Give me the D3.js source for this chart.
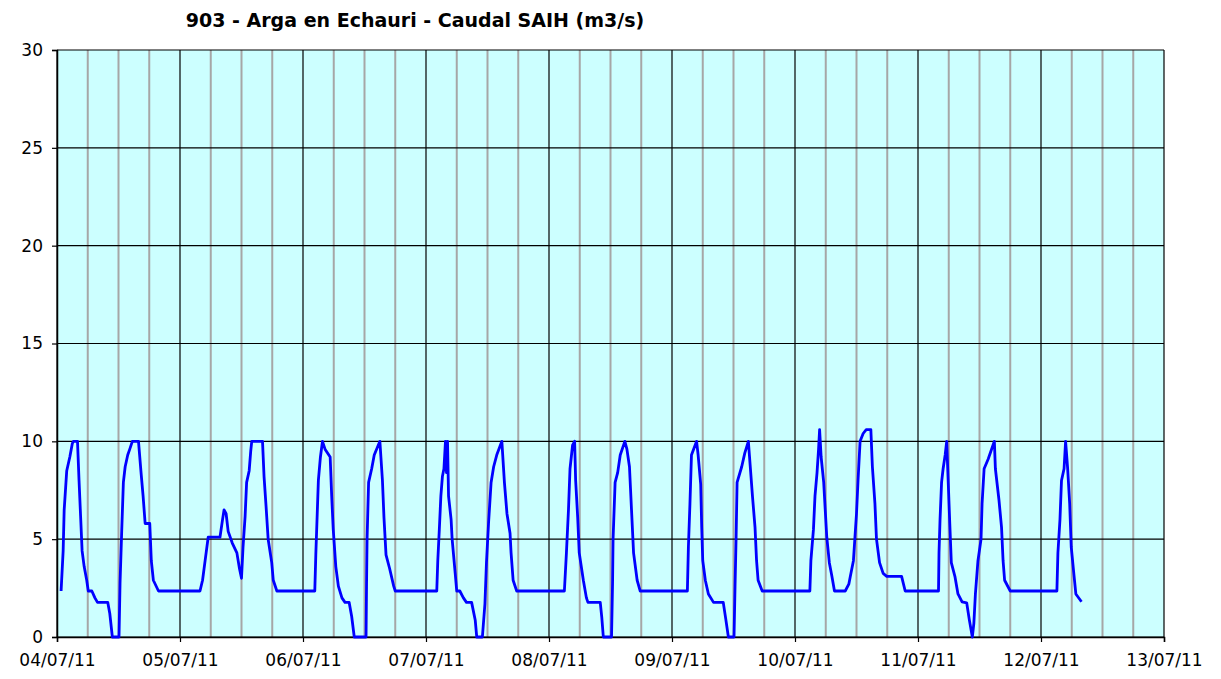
<!DOCTYPE html>
<html>
<head>
<meta charset="utf-8">
<script src="https://cdn.jsdelivr.net/npm/d3@7"></script>
<style>
  body { margin: 0; background: #fff; }
  svg { display: block; }
</style>
</head>
<body>
<div class="chart"></div>
<script>
// hours since 04/07/11 00:00 and flow (m3/s)
const hours = [
  0.8, 1.2, 1.4, 1.9, 2.5, 3.0, 3.2, 4.0, 4.3, 4.6, 4.9, 5.3, 5.8, 6.1, 6.8, 7.4, 7.9, 9.9, 10.3, 10.8,
  12.1, 12.3, 12.6, 12.95, 13.3, 13.8, 14.2, 14.7, 15.9, 16.4, 16.8, 17.2, 18.1, 18.4, 18.8, 19.8,
  27.9, 28.4, 28.9, 29.5, 31.8, 32.3, 32.6, 33.0, 33.4, 34.2, 35.1, 35.6, 36.0, 36.3, 36.7, 37.0, 37.5, 37.8, 38.0,
  40.1, 40.4, 40.8, 41.2, 41.9, 42.2, 42.9,
  50.3, 50.5, 51.0, 51.4, 51.8, 52.3, 53.3, 53.6, 53.9, 54.4, 54.9, 55.6, 56.2, 57.0, 57.5, 58.0,
  60.3, 60.4, 60.5, 60.8, 61.4, 61.9, 63.0, 63.5, 63.8, 64.2, 64.9, 65.7, 66.0,
  74.1, 74.3, 74.6, 74.9, 75.2, 75.5, 75.8, 76.0, 76.2, 76.4, 76.9, 77.1, 77.7, 78.0, 78.6, 79.3, 79.9, 80.9, 81.6, 81.9,
  83.0, 83.5, 83.8, 84.2, 84.7, 85.2, 85.8, 86.8, 87.3, 87.8, 88.4, 88.6, 89.0, 89.7,
  99.0, 99.4, 99.8, 100.1, 100.6, 101.0, 101.2, 101.6, 101.9, 102.7, 103.3, 103.6, 106.0, 106.3, 106.6,
  108.2, 108.4, 108.5, 108.9, 109.4, 109.9, 110.8, 111.2, 111.7, 111.9, 112.1, 112.5, 113.2, 113.8,
  123.0, 123.2, 123.5, 123.8, 124.8, 125.1, 125.6, 125.8, 126.0, 126.5, 127.1, 128.1, 130.0, 130.5, 131.0,
  132.1, 132.3, 132.5, 132.7, 133.6, 134.2, 134.9, 135.3, 135.7, 136.2, 136.5, 136.8, 137.6,
  146.9, 147.1, 147.6, 147.9, 148.3, 148.6, 148.8, 149.1, 149.6, 149.9, 150.2, 150.7, 151.2, 151.7,
  153.8, 154.5, 154.8, 155.4, 155.7, 156.0, 156.3, 156.7, 157.3, 157.9, 158.8, 159.1, 159.6, 159.9, 160.5, 161.2, 161.9,
  164.8, 165.5,
  172.0, 172.1, 172.3, 172.6, 172.9, 173.3, 173.6, 173.9, 174.2, 174.5, 175.2, 175.8, 176.6, 177.5, 178.0, 178.6,
  178.9, 179.2, 179.7, 180.3, 180.5, 180.9, 181.7, 182.9, 183.1, 183.8, 184.3, 184.6, 184.9, 186.0,
  195.1, 195.3, 195.7, 196.0, 196.5, 196.8, 197.2, 197.6, 197.9, 198.4, 198.8, 199.9
];
const flow = [
  2.35, 4.4, 6.5, 8.5, 9.2, 9.9, 10, 10, 8.0, 6.2, 4.4, 3.6, 2.9, 2.35, 2.35, 2.0, 1.77, 1.77, 1.2, 0,
  0, 2.75, 5.2, 7.9, 8.7, 9.3, 9.6, 10, 10, 8.4, 7.2, 5.8, 5.8, 3.9, 2.9, 2.35,
  2.35, 2.9, 3.9, 5.1, 5.1, 6.0, 6.5, 6.3, 5.4, 4.8, 4.3, 3.5, 3.0, 4.6, 6.15, 7.9, 8.5, 9.5, 10,
  10, 8.2, 6.65, 5.0, 3.8, 2.9, 2.35,
  2.35, 4.2, 8.0, 9.2, 10, 9.6, 9.2, 7.2, 5.5, 3.6, 2.6, 2.0, 1.77, 1.77, 1.05, 0,
  0, 2.75, 5.0, 7.9, 8.6, 9.3, 10, 8.0, 6.1, 4.2, 3.5, 2.6, 2.35,
  2.35, 3.9, 5.5, 7.2, 8.2, 8.6, 10, 8.4, 10, 7.2, 6.0, 5.0, 3.25, 2.35, 2.35, 2.0, 1.77, 1.77, 0.87, 0,
  0, 1.7, 3.8, 5.8, 7.9, 8.7, 9.3, 10, 7.9, 6.3, 5.3, 4.3, 2.9, 2.35,
  2.35, 4.3, 6.5, 8.6, 9.8, 10, 8.0, 6.1, 4.3, 2.9, 2.0, 1.77, 1.77, 1.0, 0,
  0, 2.75, 5.0, 7.9, 8.4, 9.3, 10, 9.6, 8.7, 7.6, 6.5, 4.3, 2.9, 2.35,
  2.35, 4.6, 6.8, 9.3, 10, 9.3, 7.8, 5.6, 3.9, 2.9, 2.2, 1.77, 1.77, 0.9, 0,
  0, 2.6, 5.0, 7.9, 8.7, 9.4, 10, 8.6, 7.2, 5.6, 3.9, 2.9, 2.35,
  2.35, 3.9, 5.5, 7.2, 8.4, 9.6, 10.6, 9.2, 7.9, 6.5, 5.1, 3.8, 3.1, 2.35,
  2.35, 2.7, 3.1, 3.9, 5.1, 6.3, 8.0, 10, 10.4, 10.6, 10.6, 8.7, 6.8, 5.0, 3.8, 3.25, 3.1,
  3.1, 2.35,
  2.35, 4.3, 6.0, 7.9, 8.6, 9.3, 10, 7.9, 5.8, 3.8, 3.1, 2.2, 1.8, 1.75, 0.9, 0,
  0.7, 2.2, 3.9, 5.0, 6.8, 8.6, 9.1, 10, 8.6, 7.0, 5.6, 3.9, 2.9, 2.35,
  2.35, 4.3, 6.0, 8.0, 8.6, 10, 8.6, 6.8, 4.6, 3.25, 2.2, 1.8
];
const yTicks = [0, 5, 10, 15, 20, 25, 30];
const title = '903 - Arga en Echauri - Caudal SAIH (m3/s)';

const start = new Date(2011, 6, 4);
const end = new Date(2011, 6, 13);
const data = hours.map((h, i) => ({ t: new Date(+start + h * 3600e3), v: flow[i] }));

const W = 1221, H = 679;
const margin = { top: 50, right: 57, bottom: 42, left: 57 };

const svg = d3.select('.chart').append('svg')
  .attr('width', W)
  .attr('height', H);

const x = d3.scaleTime().domain([start, end]).range([margin.left, W - margin.right]);
const y = d3.scaleLinear().domain([0, 30]).range([H - margin.bottom, margin.top]);

// plot background
svg.append('rect')
  .attr('x', x.range()[0]).attr('y', y.range()[1])
  .attr('width', x.range()[1] - x.range()[0])
  .attr('height', y.range()[0] - y.range()[1])
  .attr('fill', '#ccffff');

// 6-hour grey grid
svg.append('g')
  .selectAll('line')
  .data(d3.timeHour.every(6).range(start, +end + 1).filter(d => d.getHours() !== 0))
  .join('line')
    .attr('x1', d => x(d)).attr('x2', d => x(d))
    .attr('y1', y(0)).attr('y2', y(30))
    .attr('stroke', '#a6a6a6').attr('stroke-width', 2);

// day grid
svg.append('g')
  .selectAll('line')
  .data(d3.timeDay.range(start, +end + 1))
  .join('line')
    .attr('x1', d => x(d)).attr('x2', d => x(d))
    .attr('y1', y(0)).attr('y2', y(30))
    .attr('stroke', '#000').attr('stroke-width', 1.2);

// horizontal grid
svg.append('g')
  .selectAll('line')
  .data(yTicks)
  .join('line')
    .attr('x1', x.range()[0]).attr('x2', x.range()[1])
    .attr('y1', d => y(d)).attr('y2', d => y(d))
    .attr('stroke', '#000').attr('stroke-width', 1.2);

// axes
const xAxis = svg.append('g')
  .attr('transform', `translate(0,${y(0)})`)
  .call(d3.axisBottom(x).ticks(d3.timeDay.every(1)).tickFormat(d3.timeFormat('%d/%m/%y')).tickSize(5).tickPadding(12));
const yAxis = svg.append('g')
  .attr('transform', `translate(${x.range()[0]},0)`)
  .call(d3.axisLeft(y).tickValues(yTicks).tickSize(5).tickPadding(9));

[xAxis, yAxis].forEach(g => {
  g.select('.domain').attr('stroke', '#000').attr('stroke-width', 1.5);
  g.selectAll('.tick line').attr('stroke', '#000').attr('stroke-width', 1.2);
  g.selectAll('text').attr('fill', '#000')
    .style('font-family', '"DejaVu Sans", Verdana, sans-serif')
    .style('font-size', '17px');
});

// flow line
const line = d3.line()
  .x(d => x(d.t))
  .y(d => y(d.v));

svg.append('path')
  .datum(data)
  .attr('fill', 'none')
  .attr('stroke', '#0000ff')
  .attr('stroke-width', 2.8)
  .attr('stroke-linejoin', 'round')
  .attr('d', line);

svg.append('text')
  .attr('x', 415).attr('y', 27)
  .attr('text-anchor', 'middle')
  .style('font-family', '"DejaVu Sans", Verdana, sans-serif')
  .style('font-weight', 'bold')
  .style('font-size', '19px')
  .text(title);
</script>
</body>
</html>
